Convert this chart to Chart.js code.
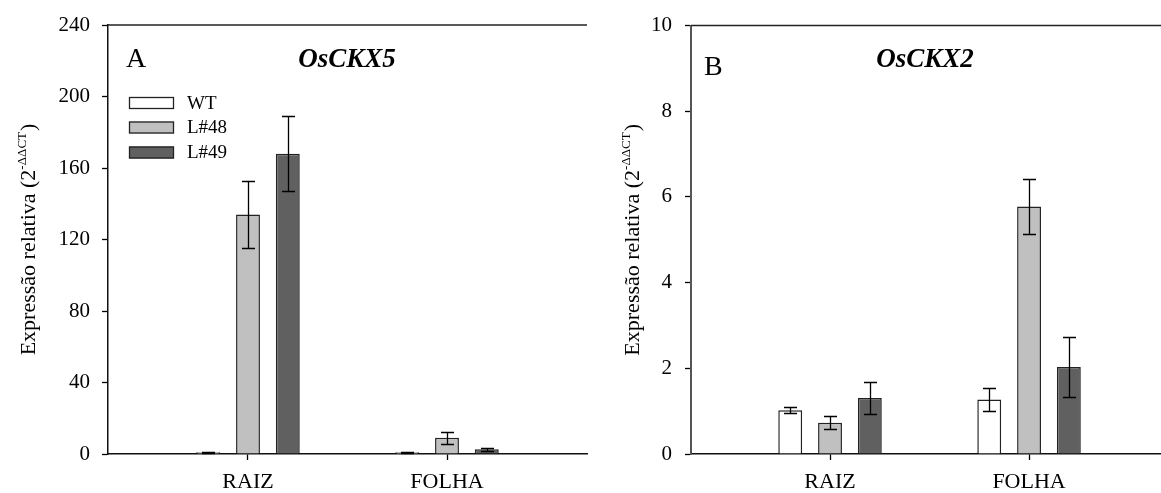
<!DOCTYPE html>
<html>
<head>
<meta charset="utf-8">
<script src="https://cdn.jsdelivr.net/npm/chart.js@4"></script>
<style>
body { margin: 0; background: #fff; width: 1161px; height: 493px; position: relative; overflow: hidden; }
canvas { position: absolute; top: 0; }
</style>
</head>
<body>
<canvas id="chartA" width="600" height="493" style="left:0"></canvas>
<canvas id="chartB" width="561" height="493" style="left:600px"></canvas>
<script>
// categories and series
const categories = ['RAIZ', 'FOLHA'];
const categoryPos = [1, 2];
const seriesNames = ['WT', 'L#48', 'L#49'];

// OsCKX5 (panel A)
const ckx5WT = [1.0, 1.0];
const ckx5L48 = [134, 9.1];
const ckx5L49 = [168, 2.6];
const ckx5WTErr = [0.3, 0.3];
const ckx5L48Err = [18.5, 3.3];
const ckx5L49Err = [21, 1.0];
const ckx5Ticks = [0, 40, 80, 120, 160, 200, 240];

// OsCKX2 (panel B)
const ckx2WT = [1.02, 1.27];
const ckx2L48 = [0.73, 5.78];
const ckx2L49 = [1.31, 2.03];
const ckx2WTErr = [0.07, 0.26];
const ckx2L48Err = [0.15, 0.65];
const ckx2L49Err = [0.38, 0.7];
const ckx2Ticks = [0, 2, 4, 6, 8, 10];

const seriesColors = ['#ffffff', '#c0c0c0', '#606060'];
const serif = '"Liberation Serif", "Times New Roman", serif';

function toPoints(values) {
    return values.map((v, i) => ({ x: categoryPos[i], y: v }));
}

// Draw error bars on top of every bar
const errorBars = {
    id: 'errorBars',
    afterDatasetsDraw(chart) {
        const ctx = chart.ctx;
        const yScale = chart.scales.y;
        ctx.save();
        ctx.strokeStyle = '#000';
        ctx.lineWidth = 1.3;
        chart.data.datasets.forEach((ds, di) => {
            const meta = chart.getDatasetMeta(di);
            meta.data.forEach((bar, i) => {
                const v = ds.data[i].y;
                const e = ds.errors[i];
                const top = Math.round(yScale.getPixelForValue(v + e)) + 0.5;
                const bot = Math.round(yScale.getPixelForValue(v - e)) + 0.5;
                const x = Math.round(bar.x) + 0.5;
                ctx.beginPath();
                ctx.moveTo(x, top); ctx.lineTo(x, bot);
                ctx.moveTo(x - 6.5, top); ctx.lineTo(x + 6.5, top);
                ctx.moveTo(x - 6.5, bot); ctx.lineTo(x + 6.5, bot);
                ctx.stroke();
            });
        });
        ctx.restore();
    }
};

// Frame top line, panel letter, gene name, y title and legend
const panelDecor = {
    id: 'panelDecor',
    afterDraw(chart, args, opts) {
        const ctx = chart.ctx;
        const area = chart.chartArea;
        ctx.save();

        ctx.strokeStyle = '#222';
        ctx.lineWidth = 1.5;
        ctx.beginPath();
        ctx.moveTo(area.left, area.top);
        ctx.lineTo(area.right, area.top);
        ctx.stroke();

        ctx.fillStyle = '#000';
        ctx.textBaseline = 'alphabetic';
        ctx.font = '28px ' + serif;
        ctx.textAlign = 'left';
        ctx.fillText(opts.letter, opts.letterX, opts.letterY);

        ctx.font = 'italic bold 27px ' + serif;
        ctx.textAlign = 'center';
        ctx.fillText(opts.gene, opts.geneX, opts.geneY);

        // rotated y title with superscript
        const main = 'Expressão relativa (2';
        const sup = '-ΔΔCT';
        const tail = ')';
        ctx.font = '22px ' + serif;
        const wMain = ctx.measureText(main).width;
        const wTail = ctx.measureText(tail).width;
        ctx.font = '13px ' + serif;
        const wSup = ctx.measureText(sup).width;
        const total = wMain + wSup + wTail + 1;
        ctx.translate(opts.titleX, (area.top + area.bottom) / 2);
        ctx.rotate(-Math.PI / 2);
        ctx.textAlign = 'left';
        let px = -total / 2;
        ctx.font = '22px ' + serif;
        ctx.fillText(main, px, 0);
        px += wMain;
        ctx.font = '13px ' + serif;
        ctx.fillText(sup, px, -9);
        px += wSup + 1;
        ctx.font = '22px ' + serif;
        ctx.fillText(tail, px, 0);
        ctx.setTransform(1, 0, 0, 1, 0, 0);

        if (opts.legend) {
            ctx.font = '19px ' + serif;
            ctx.textBaseline = 'middle';
            ctx.textAlign = 'left';
            ctx.lineWidth = 1.3;
            ctx.strokeStyle = '#222';
            const rows = [103, 127.5, 152.5];
            chart.data.datasets.forEach((ds, i) => {
                const y = rows[i];
                ctx.fillStyle = ds.backgroundColor;
                ctx.fillRect(129, y - 6, 45, 12);
                ctx.strokeRect(129.5, y - 5.5, 44, 11);
                ctx.fillStyle = '#000';
                ctx.fillText(ds.label, 187, y + 1);
            });
        }
        ctx.restore();
    }
};

function makePanel(id, cfg) {
    const ctx = document.getElementById(id).getContext('2d');
    const datasets = cfg.values.map((vals, i) => ({
        label: seriesNames[i],
        data: toPoints(vals),
        errors: cfg.errors[i],
        backgroundColor: seriesColors[i],
        borderColor: '#222',
        borderWidth: 1.5,
        categoryPercentage: 0.6,
        barPercentage: 0.6
    }));
    return new Chart(ctx, {
        type: 'bar',
        data: { datasets: datasets },
        plugins: [errorBars, panelDecor],
        options: {
            responsive: false,
            animation: false,
            devicePixelRatio: 1,
            layout: { padding: { left: 0, right: cfg.padRight, top: 25, bottom: 0 } },
            plugins: {
                legend: { display: false },
                tooltip: { enabled: false },
                panelDecor: cfg.decor
            },
            scales: {
                x: {
                    type: 'linear',
                    offset: false,
                    min: cfg.xMin,
                    max: cfg.xMax,
                    afterBuildTicks: scale => { scale.ticks = categoryPos.map(v => ({ value: v })); },
                    afterFit: scale => { scale.height = 39; },
                    ticks: {
                        callback: v => categories[categoryPos.indexOf(v)],
                        color: '#000',
                        padding: 9,
                        font: { family: serif, size: 22 }
                    },
                    grid: { offset: false, drawOnChartArea: false, tickLength: 6, tickColor: '#000', tickWidth: 1.3 },
                    border: { color: '#111', width: 1.5 }
                },
                y: {
                    min: 0,
                    max: cfg.yTicks[cfg.yTicks.length - 1],
                    afterBuildTicks: scale => { scale.ticks = cfg.yTicks.map(v => ({ value: v })); },
                    afterFit: scale => { scale.width = cfg.yWidth; },
                    ticks: {
                        color: '#000',
                        padding: cfg.tickPad,
                        font: { family: serif, size: 21 }
                    },
                    grid: { drawOnChartArea: false, tickLength: 6, tickColor: '#000', tickWidth: 1.3 },
                    border: { color: cfg.yAxisColor, width: cfg.yAxisWidth }
                }
            }
        }
    });
}

makePanel('chartA', {
    values: [ckx5WT, ckx5L48, ckx5L49],
    errors: [ckx5WTErr, ckx5L48Err, ckx5L49Err],
    yTicks: ckx5Ticks,
    xMin: 0.2965, xMax: 2.7035,
    yWidth: 108, padRight: 13, tickPad: 12,
    yAxisColor: '#111', yAxisWidth: 1.5,
    decor: { letter: 'A', letterX: 126, letterY: 67, gene: 'OsCKX5', geneX: 347, geneY: 67, titleX: 35, legend: true }
});

makePanel('chartB', {
    values: [ckx2WT, ckx2L48, ckx2L49],
    errors: [ckx2WTErr, ckx2L48Err, ckx2L49Err],
    yTicks: ckx2Ticks,
    xMin: 0.3015, xMax: 2.663,
    yWidth: 91, padRight: 0, tickPad: 13,
    yAxisColor: '#555', yAxisWidth: 2,
    decor: { letter: 'B', letterX: 104, letterY: 75, gene: 'OsCKX2', geneX: 325, geneY: 67, titleX: 39, legend: false }
});
</script>
</body>
</html>
